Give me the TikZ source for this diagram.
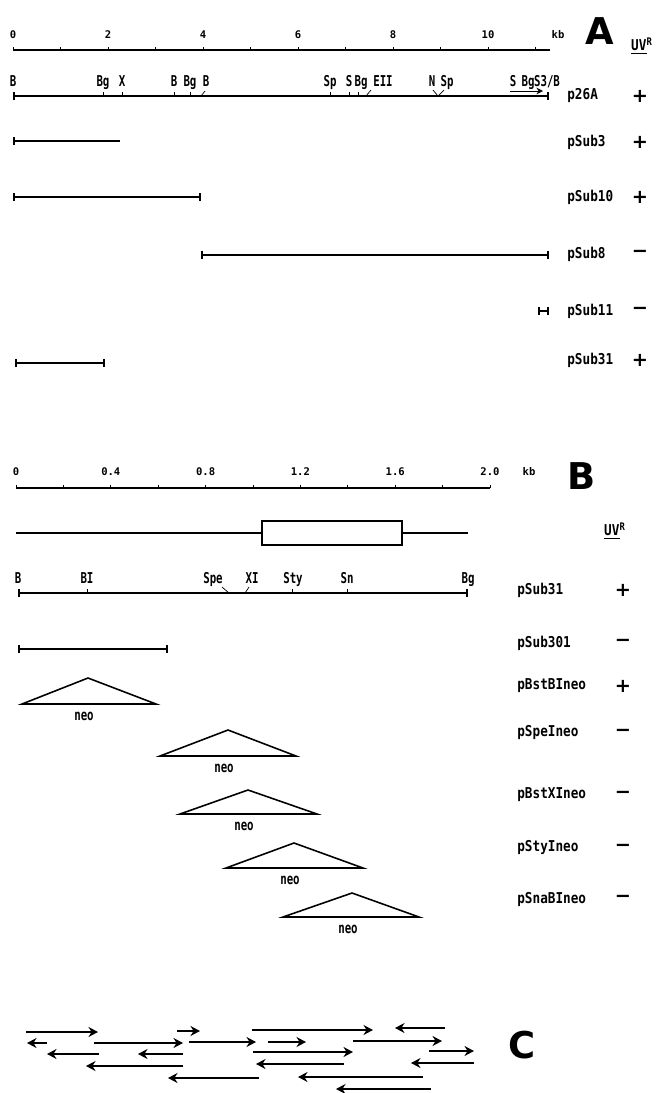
\documentclass[tikz,border=0pt]{standalone}
\usepackage{fontspec}
\setmainfont{DejaVu Sans}
\newfontfamily\mapfont[FakeStretch=0.85]{DejaVu Sans Mono}
\newfontfamily\sitefont[FakeStretch=0.72]{DejaVu Sans Mono}
\newfontfamily\numfont{DejaVu Sans Mono}
\usetikzlibrary{arrows.meta}

\tikzset{
  site/.style={font=\sitefont\bfseries\fontsize{8.5}{9}\selectfont, anchor=base, inner sep=0pt},
  num/.style={font=\numfont\bfseries\fontsize{6}{7}\selectfont, inner sep=0pt},
  clone/.style={font=\mapfont\bfseries\fontsize{8.5}{9}\selectfont, anchor=west, inner sep=0pt},
  sign/.style={font=\bfseries\fontsize{11}{11}\selectfont, inner sep=0pt},
  panel/.style={font=\bfseries\fontsize{21}{21}\selectfont, inner sep=0pt},
  frag/.style={line width=1.1pt, {Bar[width=1.6mm]}-{Bar[width=1.6mm]}},
  read/.style={line width=0.9pt, -{Stealth[length=1.9mm,width=2mm]}},
  neobox/.style={line width=0.9pt, line join=miter},
}

\begin{document}
\begin{tikzpicture}[x=0.02cm,y=-0.02cm]
    \useasboundingbox (0,0) rectangle (656,1093);

    % A: scale
    \draw[line width=0.7pt] (13,50) -- (550,50);
    \foreach \k in {0,...,11} \draw (13+47.5*\k,50) -- ++(0,-3);
    \foreach \k in {0,2,...,10} \node[num] at (13+47.5*\k,35) {\k};
    \node[num] (kbA) at (558,35) {kb};
    \node[panel] (A) at (600,31) {A};
    \node[clone,anchor=center] (uvA) at (642,46) {\underline{UV}\textsuperscript{R}};

    % A: p26A map
    \draw[frag] (13,96) -- (549,96);
    \foreach \x in {103,122,174,190,330,349,358} \draw (\x,96) -- ++(0,-4);
    \draw (201,96) -- (205,91);
    \draw (366,96) -- (371,90);
    \draw (433,90) -- (438,96) -- (444,90);
    \draw[-{Stealth[length=1.3mm,width=1.3mm]}] (510,91) -- (543,91);
    \foreach \x/\t in {13/B,103/Bg,122/X,174/B,190/Bg,206/B,330/Sp,349/S,361/Bg,383/EII,432/N,447/Sp,513/S,528/Bg}
        \node[site] at (\x,86) {\t};
    \node[site] at (547,86) {S3/B};
    \node[clone] (p26A) at (567,96) {p26A};
    \node[sign] at (640,96) {+};

    % A: subclones
    \draw[line width=1.1pt, {Bar[width=1.6mm]}-] (13,141) -- (120,141);
    \draw[frag] (13,197) -- (201,197);
    \draw[frag] (201,255) -- (549,255);
    \draw[frag] (538,311) -- (549,311);
    \draw[frag] (15,363) -- (105,363);
    \foreach \n/\y/\s in {pSub3/142/+,pSub10/197/+,pSub8/254/−,pSub11/311/−,pSub31/360/+} {
        \node[clone] (\n) at (567,\y) {\n};
        \node[sign] at (640,\y) {\s};
    }

    % B: scale
    \draw[line width=0.7pt] (16,488) -- (490,488);
    \foreach \k in {0,...,10} \draw (16+47.4*\k,488) -- ++(0,-3);
    \node[num] at (16,472) {0};
    \foreach \k/\t in {2/0.4,4/0.8,6/1.2,8/1.6,10/2.0} \node[num] at (16+47.4*\k,472) {\t};
    \node[num] (kbB) at (529,472) {kb};
    \node[panel] (B) at (582,476) {B};
    \node[clone,anchor=center] (uvB) at (615,531) {\underline{UV}\textsuperscript{R}};

    % B: gene structure
    \draw[line width=1.1pt] (16,533) -- (262,533);
    \draw[line width=1.1pt] (262,521) rectangle (402,545);
    \draw[line width=1.1pt] (402,533) -- (468,533);

    % B: pSub31 map
    \draw[frag] (18,593) -- (468,593);
    \foreach \x in {87,292,347} \draw (\x,593) -- ++(0,-4);
    \draw (222,587) -- (229,593);
    \draw (249,587) -- (245,593);
    \foreach \x/\t in {18/B,87/BI,213/Spe,252/XI,293/Sty,347/Sn,468/Bg}
        \node[site] at (\x,583) {\t};
    \draw[frag] (18,649) -- (168,649);

    % B: neo insertions
    \foreach \l/\a/\r/\t/\b in {22/88/156/678/704,160/228/296/730/756,180/248/317/790/814,226/294/363/843/868,283/352/419/893/917} {
        \draw[neobox] (\l,\b) -- (\a,\t) -- (\r,\b) -- cycle;
        \node[site,anchor=north] at (\a-4,\b+8) {neo};
    }
    \foreach \n/\y/\s in {pSub31/590/+,pSub301/643/−,pBstBIneo/686/+,pSpeIneo/733/−,pBstXIneo/795/−,pStyIneo/848/−,pSnaBIneo/899/−} {
        \node[clone] (\n) at (517,\y) {\n};
        \node[sign] at (623,\y) {\s};
    }

    % C: sequencing strategy
    \foreach \a/\b/\y in {26/98/1032,177/200/1031,252/373/1030,445/395/1028,
        47/27/1043,94/183/1043,189/256/1042,268/306/1042,353/442/1041,
        99/47/1054,183/138/1054,253/353/1052,429/474/1051,
        183/86/1066,344/256/1064,474/411/1063,
        259/168/1078,423/298/1077,431/336/1089}
        \draw[read] (\a,\y) -- (\b,\y);
    \node[panel] (C) at (522,1045) {C};
\end{tikzpicture}
\end{document}
